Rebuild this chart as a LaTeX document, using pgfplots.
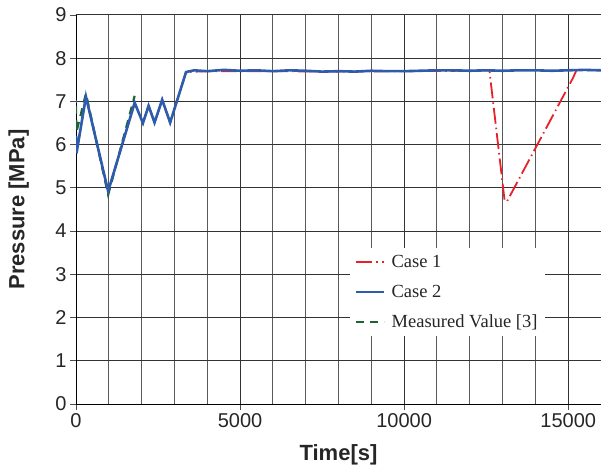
\documentclass[border=0pt]{standalone}
\usepackage{fontspec}
\setmainfont{Liberation Sans}
\newfontfamily\legfont{Liberation Serif}
\usepackage{pgfplots}
\pgfplotsset{compat=1.18}
\definecolor{cblue}{RGB}{46,92,172}
\definecolor{cred}{RGB}{232,32,40}
\definecolor{cgreen}{RGB}{30,100,50}
\begin{document}
\begin{tikzpicture}
\path[use as bounding box] (-76pt,-66pt) rectangle (525pt,404pt);
\begin{axis}[
  at={(0,0)}, anchor=south west,
  width=525pt, height=389pt, scale only axis,
  xmin=0, xmax=16000, ymin=0, ymax=9,
  xtick={0,5000,10000,15000},
  minor xtick={1000,2000,3000,4000,6000,7000,8000,9000,11000,12000,13000,14000,16000},
  ytick={0,1,...,9},
  scaled x ticks=false,
  xticklabel style={/pgf/number format/1000 sep={}},
  /pgf/number format/assume math mode=true,
  ticklabel style={font=\fontsize{20}{20}\selectfont, text=black!85},
  tick align=outside,
  major tick length=6pt, minor tick length=0pt,
  tick style={black!70, line width=0.8pt},
  grid=both,
  major grid style={black!80, line width=1pt},
  minor grid style={black!65, line width=1pt},
  axis line style={line width=1pt},
  axis x line*=bottom, axis y line*=left,
  xlabel={\textbf{Time[s]}},
  ylabel={\textbf{Pressure [MPa]}},
  label style={font=\fontsize{22}{22}\selectfont, text=black!85},
  xlabel style={at={(axis description cs:0.5,-0.131)}, anchor=center},
  ylabel style={at={(axis description cs:-0.109,0.5)}, anchor=center},
  legend style={at={(axis description cs:0.522,0.401)}, anchor=north west,
    draw=none, fill=white, font=\legfont\fontsize{18.5}{18.5}\selectfont,
    inner xsep=5pt, inner ysep=5pt, row sep=12pt, column sep=4pt,
    text=black!85},
  legend cell align=left,
  legend image code/.code={\draw[#1] (0pt,0pt) -- (28pt,0pt);},
]
\addplot[cred, line width=1.8pt, dash pattern=on 16pt off 4pt on 1.5pt off 4pt] coordinates {
(0,6.2)(15,5.8)(303,7.11)(980,4.92)(1788,6.97)(2040,6.5)(2212,6.9)(2394,6.51)(2626,7.04)(2869,6.51)(3354,7.68)
(4000,7.70)(6000,7.70)(8000,7.69)(10000,7.70)(12000,7.71)(12600,7.72)
(12640,7.45)(13060,4.72)(13130,4.68)(15150,7.55)(15250,7.72)(16000,7.72)};
\addlegendentry{Case 1}
\addplot[cblue, line width=2.4pt] coordinates {(0,7)(1,7)};
\addlegendentry{Case 2}
\addplot[cgreen, line width=2.2pt, dash pattern=on 8pt off 6pt] coordinates {
(0,6.9)(15,6.3)(303,7.18)(980,4.84)(1788,7.13)};
\addlegendentry{Measured Value [3]}
\addplot[cblue, line width=2.6pt, forget plot] coordinates {
(0,6.2)(15,5.8)(303,7.11)(980,4.92)(1788,6.97)(2040,6.5)(2212,6.9)(2394,6.51)(2626,7.04)(2869,6.51)(3354,7.68)
(3600,7.72)(4000,7.70)(4500,7.73)(5000,7.71)(5500,7.72)(6000,7.70)(6500,7.72)(7000,7.71)(7500,7.69)
(8000,7.70)(8500,7.69)(9000,7.71)(9500,7.70)(10000,7.70)(10500,7.71)(11000,7.72)(11500,7.72)
(12000,7.71)(12500,7.72)(13000,7.71)(13500,7.72)(14000,7.72)(14500,7.71)(15000,7.72)(15500,7.73)(16000,7.72)};
\end{axis}
\end{tikzpicture}
\end{document}
